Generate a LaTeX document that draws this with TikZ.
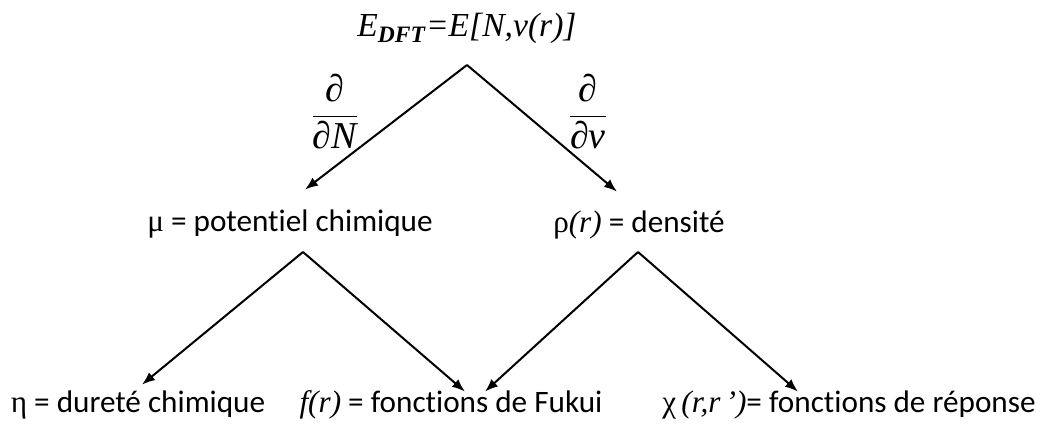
\documentclass[tikz,border=0pt]{standalone}
\usepackage{fontspec}
\setmainfont{Carlito}[Ligatures=NoCommon]
\newfontfamily\tnr{Liberation Serif}
\usetikzlibrary{arrows.meta}
\tikzset{
  lbl/.style={anchor=base, inner sep=0pt, text height=10pt, text depth=3pt, font=\fontsize{15.6}{18}\selectfont},
  arr/.style={line width=1pt, -{Latex[length=6.5pt,width=5pt]}},
  deriv/.style={inner sep=0pt, font=\fontsize{19}{22}\selectfont}
}
\begin{document}
\begin{tikzpicture}[x=0.5pt,y=-0.5pt]
\useasboundingbox (0,0) rectangle (1037,432);
\node[anchor=base, inner sep=0pt, font=\fontsize{16.8}{20}\selectfont] (edft) at (467,37) {\tnr\itshape E\textsubscript{\bfseries DFT}=E[N,v(r)]};
\coordinate (topfork) at (467,65);
\node[deriv] (dN) at (335,112) {$\displaystyle\frac{\mbox{\tnr\itshape ∂}}{\mbox{\tnr\itshape ∂N}}$};
\node[deriv] (dv) at (588,112) {$\displaystyle\frac{\mbox{\tnr\itshape ∂}}{\mbox{\tnr\itshape ∂v}}$};
\node[lbl] (mu) at (290,232) {{\tnr μ} = potentiel chimique};
\node[lbl] (rho) at (639,233) {{\tnr ρ\itshape(r)} = densité};
\coordinate (mufork) at (303,252);
\coordinate (rhofork) at (638,252);
\node[lbl] (eta) at (138,412) {{\tnr η} = dureté chimique};
\node[lbl] (fukui) at (451,412) {{\tnr\itshape f(r)} = fonctions de Fukui};
\node[lbl] (chi) at (849,412) {{\tnr χ\,\itshape(r,r\,’)}= fonctions de réponse};
\draw[arr] (topfork) -- ([xshift=7.5pt,yshift=11pt]mu.north);
\draw[arr] (topfork) -- ([xshift=-11pt,yshift=10.5pt]rho.north);
\draw[arr] (mufork) -- ([xshift=2pt,yshift=3.5pt]eta.north);
\draw[arr] (mufork) -- ([xshift=7pt]fukui.north);
\draw[arr] (rhofork) -- ([xshift=17pt]fukui.north);
\draw[arr] (rhofork) -- ([xshift=-25.5pt]chi.north);
\end{tikzpicture}
\end{document}
